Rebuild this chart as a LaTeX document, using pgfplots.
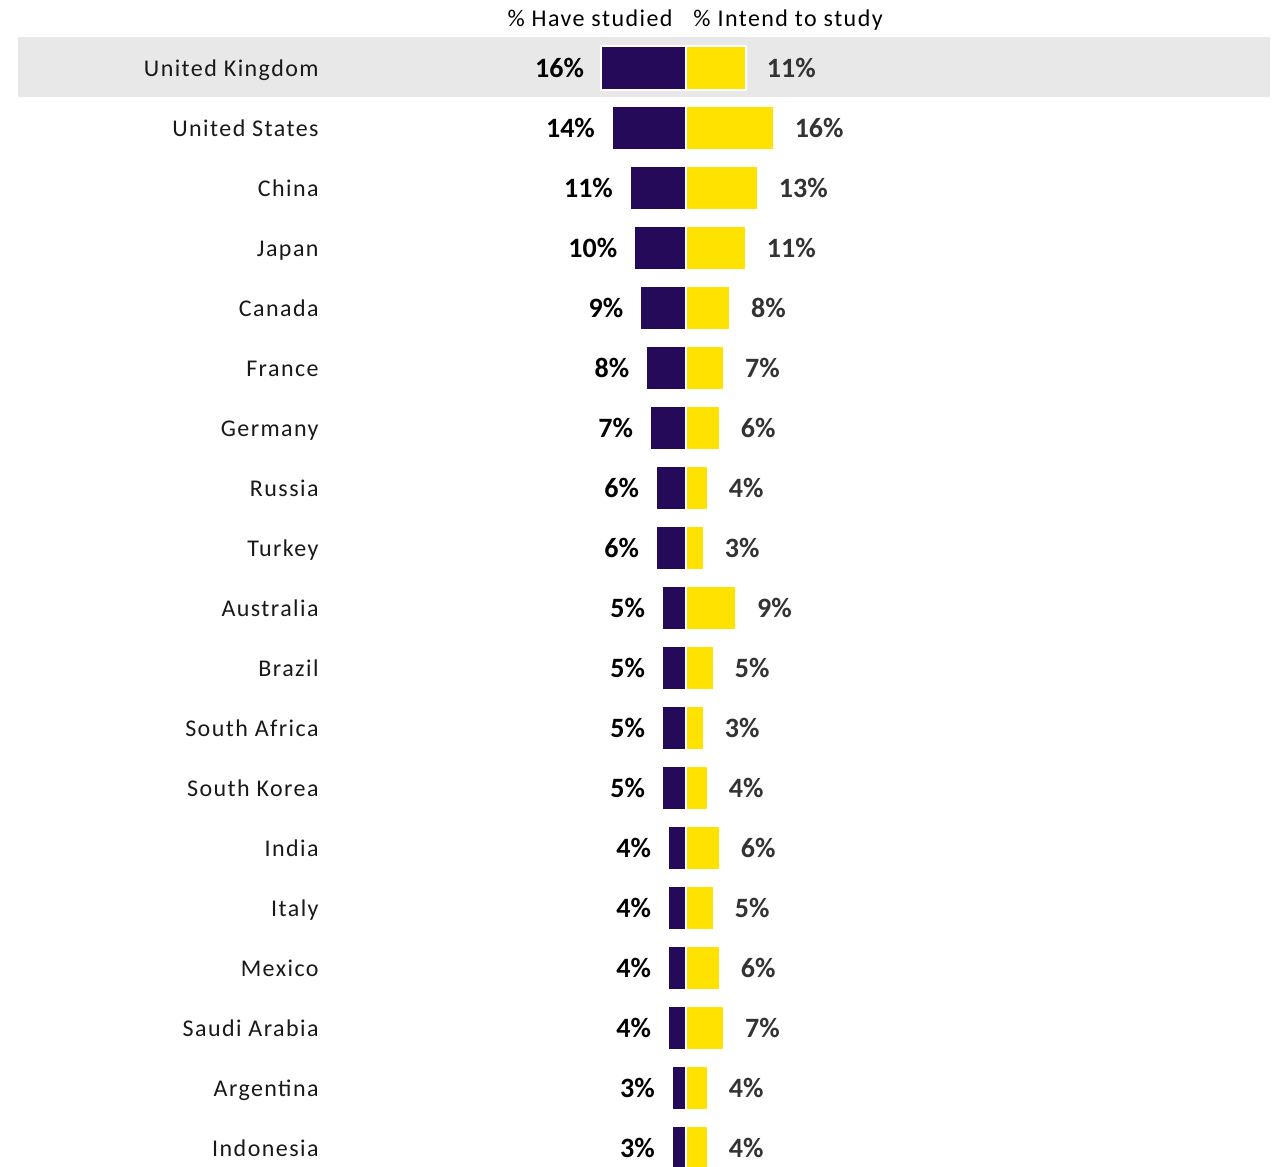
\documentclass[border=0pt]{standalone}
\usepackage{pgfplots}
\usepackage{pgfplotstable}
\pgfplotsset{compat=1.18}
\usepackage{fontspec}
\setmainfont{Carlito}
\newfontfamily\spaced[LetterSpace=6]{Carlito}

\definecolor{studied}{HTML}{250A5A}
\definecolor{intend}{HTML}{FFE200}
\definecolor{band}{HTML}{E8E8E8}
\definecolor{rlab}{HTML}{333333}

% row, country, bar length (%), label, bar length (%), label
\pgfplotstableread[col sep=comma]{
row,name,lx,have,havel,intend,intendl
1,United Kingdom,-67.34,-15.6,16,11.0,11
2,United States,-67.34,-13.6,14,16.1,16
3,China,-67.34,-10.3,11,13.2,13
4,Japan,-67.34,-9.5,10,11.0,11
5,Canada,-67.34,-8.4,9,8.1,8
6,France,-67.34,-7.3,8,7.0,7
7,Germany,-67.34,-6.6,7,6.2,6
8,Russia,-67.34,-5.5,6,4.0,4
9,Turkey,-67.34,-5.5,6,3.3,3
10,Australia,-67.34,-4.4,5,9.2,9
11,Brazil,-67.34,-4.4,5,5.1,5
12,South Africa,-67.34,-4.4,5,3.3,3
13,South Korea,-67.34,-4.4,5,4.0,4
14,India,-67.34,-3.3,4,6.2,6
15,Italy,-67.34,-3.3,4,5.1,5
16,Mexico,-67.34,-3.3,4,6.2,6
17,Saudi Arabia,-67.34,-3.3,4,7.0,7
18,Argentina,-67.34,-2.6,3,4.0,4
19,Indonesia,-67.34,-2.6,3,4.0,4
}\data

\begin{document}
\begin{tikzpicture}
\begin{axis}[
    name=main,
    scale only axis,
    width=640.5pt, height=583.5pt,
    xmin=-125.87, xmax=109.17,
    ymin=-0.1333, ymax=19.3167,
    y dir=reverse,
    axis lines=none,
    clip=false,
    bar width=0.733,
    bar shift=0pt,
    font=\fontsize{12}{14}\selectfont\spaced,
]
% highlighted first row
\fill[band] (axis cs:-122.57,0.483) rectangle (axis cs:107.16,1.483);

% country names
\addplot[draw=none, mark=none, point meta=explicit symbolic,
    nodes near coords,
    every node near coord/.append style={anchor=base east, inner sep=0pt,
        yshift=-4.3pt, text=black!90}]
    table[x=lx, y=row, meta=name] {\data};

\addplot[xbar, fill=studied, draw=white, line width=1pt,
    point meta=explicit symbolic,
    nodes near coords={\pgfplotspointmeta\%},
    every node near coord/.append style={anchor=base east, inner sep=0pt,
        xshift=-8pt, yshift=-4.7pt,
        font=\fontsize{14}{16}\selectfont\rmfamily\bfseries, text=black}]
    table[x=have, y=row, meta=havel] {\data};

\addplot[xbar, fill=intend, draw=white, line width=1pt,
    point meta=explicit symbolic,
    nodes near coords={\pgfplotspointmeta\%},
    every node near coord/.append style={anchor=base west, inner sep=0pt,
        xshift=10pt, yshift=-4.7pt,
        font=\fontsize{14}{16}\selectfont\rmfamily\bfseries, text=rlab}]
    table[x=intend, y=row, meta=intendl] {\data};

% column headers
\node[anchor=base east, inner sep=0pt, yshift=-4.3pt] at (axis cs:-2.4,0.1667) {\% Have studied};
\node[anchor=base west, inner sep=0pt, yshift=-4.3pt] at (axis cs:1.3,0.1667) {\% Intend to study};
\end{axis}
\pgfresetboundingbox
\path (main.south west) rectangle (main.north east);
\end{tikzpicture}
\end{document}
